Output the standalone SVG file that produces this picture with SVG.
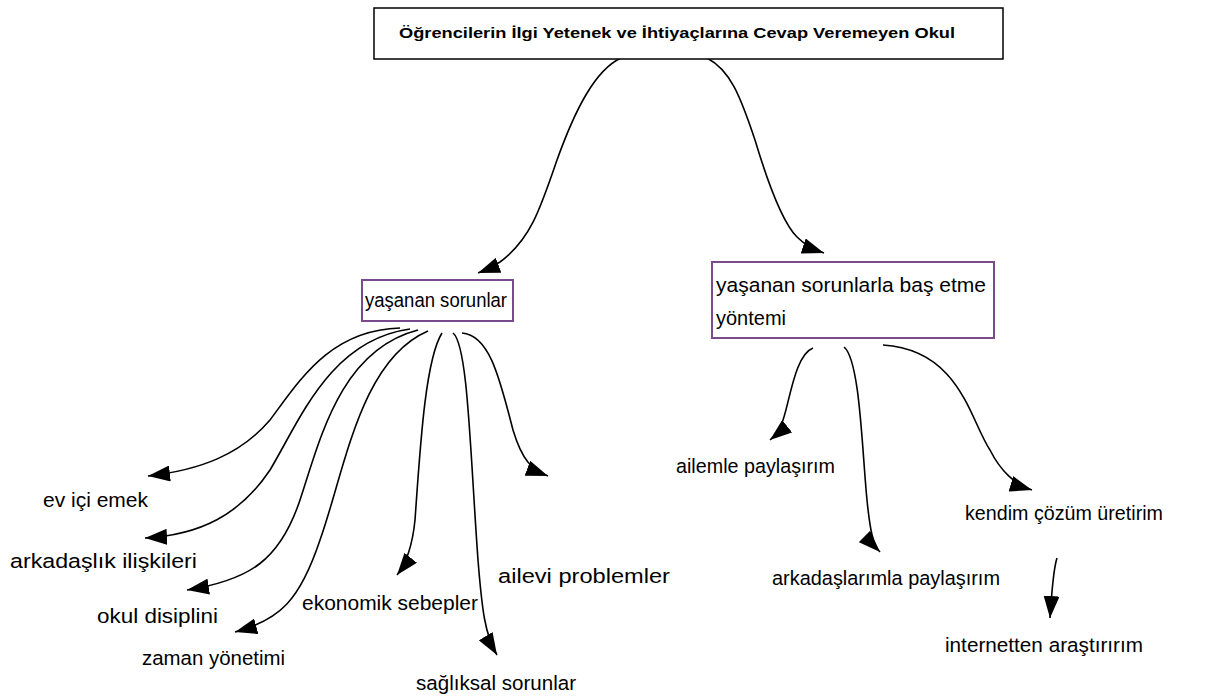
<svg xmlns="http://www.w3.org/2000/svg" width="1219" height="697" viewBox="0 0 1219 697">
<style>
text{font-family:"Liberation Sans",Arial,sans-serif;fill:#000;}
.t{font-size:20.5px;}
.title{font-size:15.5px;font-weight:bold;}
.box{fill:#fff;stroke:#000;stroke-width:1.5;}
.pbox{fill:#fff;stroke:#7b4a8c;stroke-width:2;}
.c{fill:none;stroke:#000;stroke-width:1.6;marker-end:url(#ah);}
</style>
<defs>
<marker id="ah" markerUnits="userSpaceOnUse" markerWidth="24" markerHeight="16" refX="22" refY="8" orient="auto">
<path d="M0,0 L22,8 L0,16 Z" fill="#000"/>
</marker>
</defs>
<g id="connectors">
<path class="c" d="M621,58 C595,70 575,110 557,160 C540,210 530,240 500,262 C492,267 486,270 478,273"/>
<path class="c" d="M707,58 C730,70 740,95 755,140 C770,190 785,225 797,237 C805,245 812,249 824,253"/>
<path class="c" d="M400,328 C330,330 300,380 270,420 C240,455 200,470 148,476"/>
<path class="c" d="M410,329 C330,340 300,420 270,470 C240,515 200,535 145,538"/>
<path class="c" d="M418,330 C340,350 320,440 300,500 C280,560 250,580 187,590"/>
<path class="c" d="M428,331 C360,360 345,470 320,540 C300,600 280,620 235,632"/>
<path class="c" d="M442,333 C425,360 420,450 415,520 C412,550 405,565 397,575"/>
<path class="c" d="M453,333 C468,345 470,450 478,560 C482,610 485,635 497,655"/>
<path class="c" d="M462,333 C490,335 500,380 513,430 C522,460 532,470 548,476"/>
<path class="c" d="M813,348 C795,355 790,400 783,420 C780,430 775,436 770,440"/>
<path class="c" d="M844,347 C860,360 862,450 867,500 C870,530 873,545 880,552"/>
<path class="c" d="M883,345 C960,350 970,420 990,450 C1000,470 1015,485 1032,490"/>
<path class="c" d="M1057,558 C1053,570 1052,590 1050,618"/>
</g>
<g id="n-root">
<rect class="box" x="374" y="8" width="629" height="51"/>
<text class="title" x="399" y="38" textLength="556" lengthAdjust="spacingAndGlyphs">Öğrencilerin İlgi Yetenek ve İhtiyaçlarına Cevap Veremeyen Okul</text>
</g>
<g id="n-problems">
<rect class="pbox" x="362" y="280" width="151" height="41"/>
<text class="t" x="365" y="307" textLength="142" lengthAdjust="spacingAndGlyphs">yaşanan sorunlar</text>
</g>
<g id="n-coping">
<rect class="pbox" x="712" y="262" width="282" height="76"/>
<text class="t" x="716" y="292" textLength="270" lengthAdjust="spacingAndGlyphs">yaşanan sorunlarla baş etme</text>
<text class="t" x="716" y="325" textLength="70" lengthAdjust="spacingAndGlyphs">yöntemi</text>
</g>
<g id="n-ev"><text class="t" x="43" y="507" textLength="105" lengthAdjust="spacingAndGlyphs">ev içi emek</text></g>
<g id="n-arkadaslik"><text class="t" x="10" y="568" textLength="187" lengthAdjust="spacingAndGlyphs">arkadaşlık ilişkileri</text></g>
<g id="n-okul"><text class="t" x="97" y="623" textLength="121" lengthAdjust="spacingAndGlyphs">okul disiplini</text></g>
<g id="n-zaman"><text class="t" x="142" y="665" textLength="143" lengthAdjust="spacingAndGlyphs">zaman yönetimi</text></g>
<g id="n-ekonomik"><text class="t" x="302" y="610" textLength="176" lengthAdjust="spacingAndGlyphs">ekonomik sebepler</text></g>
<g id="n-saglik"><text class="t" x="416" y="690" textLength="160" lengthAdjust="spacingAndGlyphs">sağlıksal sorunlar</text></g>
<g id="n-ailevi"><text class="t" x="498" y="583" textLength="172" lengthAdjust="spacingAndGlyphs">ailevi problemler</text></g>
<g id="n-ailemle"><text class="t" x="676" y="473" textLength="159" lengthAdjust="spacingAndGlyphs">ailemle paylaşırım</text></g>
<g id="n-arkadaslarimla"><text class="t" x="772" y="585" textLength="228" lengthAdjust="spacingAndGlyphs">arkadaşlarımla paylaşırım</text></g>
<g id="n-kendim"><text class="t" x="965" y="520" textLength="198" lengthAdjust="spacingAndGlyphs">kendim çözüm üretirim</text></g>
<g id="n-internet"><text class="t" x="945" y="652" textLength="198" lengthAdjust="spacingAndGlyphs">internetten araştırırım</text></g>
</svg>
